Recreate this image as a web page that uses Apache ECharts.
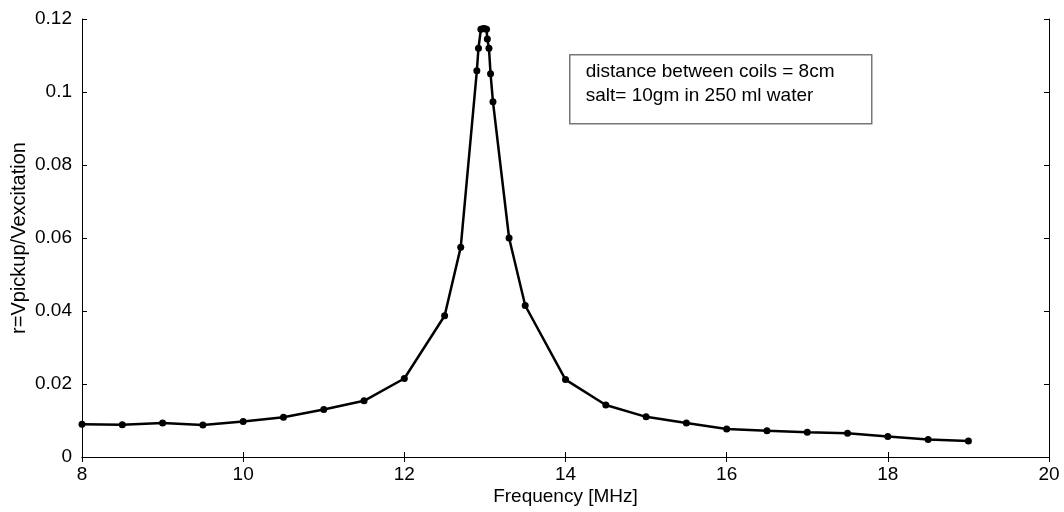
<!DOCTYPE html>
<html>
<head>
<meta charset="utf-8">
<script src="https://cdn.jsdelivr.net/npm/echarts@6/dist/echarts.min.js"></script>
<style>html,body{margin:0;padding:0;background:#fff}#c{width:1064px;height:512px}</style>
</head>
<body>
<div id="c"></div>
<script>
const freq = [8, 8.5, 9, 9.5, 10, 10.5, 11, 11.5, 12, 12.5, 12.7, 12.9, 12.92, 12.95, 12.98, 13.0, 13.02, 13.03, 13.05, 13.07, 13.1, 13.3, 13.5, 14, 14.5, 15, 15.5, 16, 16.5, 17, 17.5, 18, 18.5, 19];
const ratio = [0.0090, 0.00885, 0.0093, 0.0088, 0.0097, 0.0109, 0.0130, 0.0154, 0.0215, 0.0387, 0.0575, 0.1058, 0.1120, 0.1172, 0.1174, 0.1173, 0.1172, 0.1145, 0.1120, 0.1050, 0.0973, 0.0600, 0.0415, 0.0212, 0.01425, 0.0110, 0.0093, 0.0077, 0.0072, 0.0068, 0.0065, 0.0056, 0.0048, 0.0044];
const xTicks = [8, 10, 12, 14, 16, 18, 20];
const yTicks = [0, 0.02, 0.04, 0.06, 0.08, 0.1, 0.12];
const noteLines = ['distance between coils = 8cm', 'salt= 10gm in 250 ml water'];

const chart = echarts.init(document.getElementById('c'));
const font = 'Liberation Sans, Arial, Helvetica, sans-serif';
const fs = 19;
const axisLine = {show: true, lineStyle: {color: '#000', width: 1}};
const tickIn = {show: true, inside: true, length: 5, lineStyle: {color: '#000', width: 1}};
const baseX = {type: 'value', min: 8, max: 20, interval: 2, splitLine: {show: false}, axisLine, axisTick: tickIn};
const baseY = {type: 'value', min: 0, max: 0.12, interval: 0.02, splitLine: {show: false}, axisLine, axisTick: tickIn};
chart.setOption({
  animation: false,
  backgroundColor: '#fff',
  grid: {left: 82, right: 15, top: 19, bottom: 55, containLabel: false, outerBoundsMode: 'none'},
  xAxis: [
    Object.assign({}, baseX, {position: 'bottom',
      name: 'Frequency [MHz]', nameLocation: 'middle', nameGap: 30, nameMoveOverlap: false,
      nameTextStyle: {color: '#000', fontSize: fs, fontFamily: font},
      axisLabel: {color: '#000', fontSize: fs, fontFamily: font, margin: 8,
        formatter: v => xTicks.includes(v) ? String(v) : ''}}),
    Object.assign({}, baseX, {position: 'top', axisLabel: {show: false}})
  ],
  yAxis: [
    Object.assign({}, baseY, {position: 'left',
      name: 'r=Vpickup/Vexcitation', nameLocation: 'middle', nameGap: 53, nameMoveOverlap: false,
      nameTextStyle: {color: '#000', fontSize: 20, fontFamily: font},
      axisLabel: {color: '#000', fontSize: fs, fontFamily: font, margin: 10,
        formatter: v => { const t = yTicks.find(y => Math.abs(y - v) < 1e-9); return t === undefined ? '' : String(t); }}}),
    Object.assign({}, baseY, {position: 'right', axisLabel: {show: false}})
  ],
  graphic: [{
    type: 'group', left: 569, top: 54,
    children: [
      {type: 'rect', shape: {x: 0, y: 0, width: 302, height: 69}, style: {fill: '#fff', stroke: '#777', lineWidth: 1.5}},
      {type: 'text', x: 16, y: 8, style: {text: noteLines[0], fill: '#000', font: fs + 'px ' + font}},
      {type: 'text', x: 16, y: 32, style: {text: noteLines[1], fill: '#000', font: fs + 'px ' + font}}
    ]
  }],
  series: [{
    type: 'line',
    data: freq.map((f, i) => [f, ratio[i]]),
    symbol: 'circle', symbolSize: 7,
    itemStyle: {color: '#000'},
    lineStyle: {color: '#000', width: 2.5},
    clip: false
  }]
});
</script>
</body>
</html>
